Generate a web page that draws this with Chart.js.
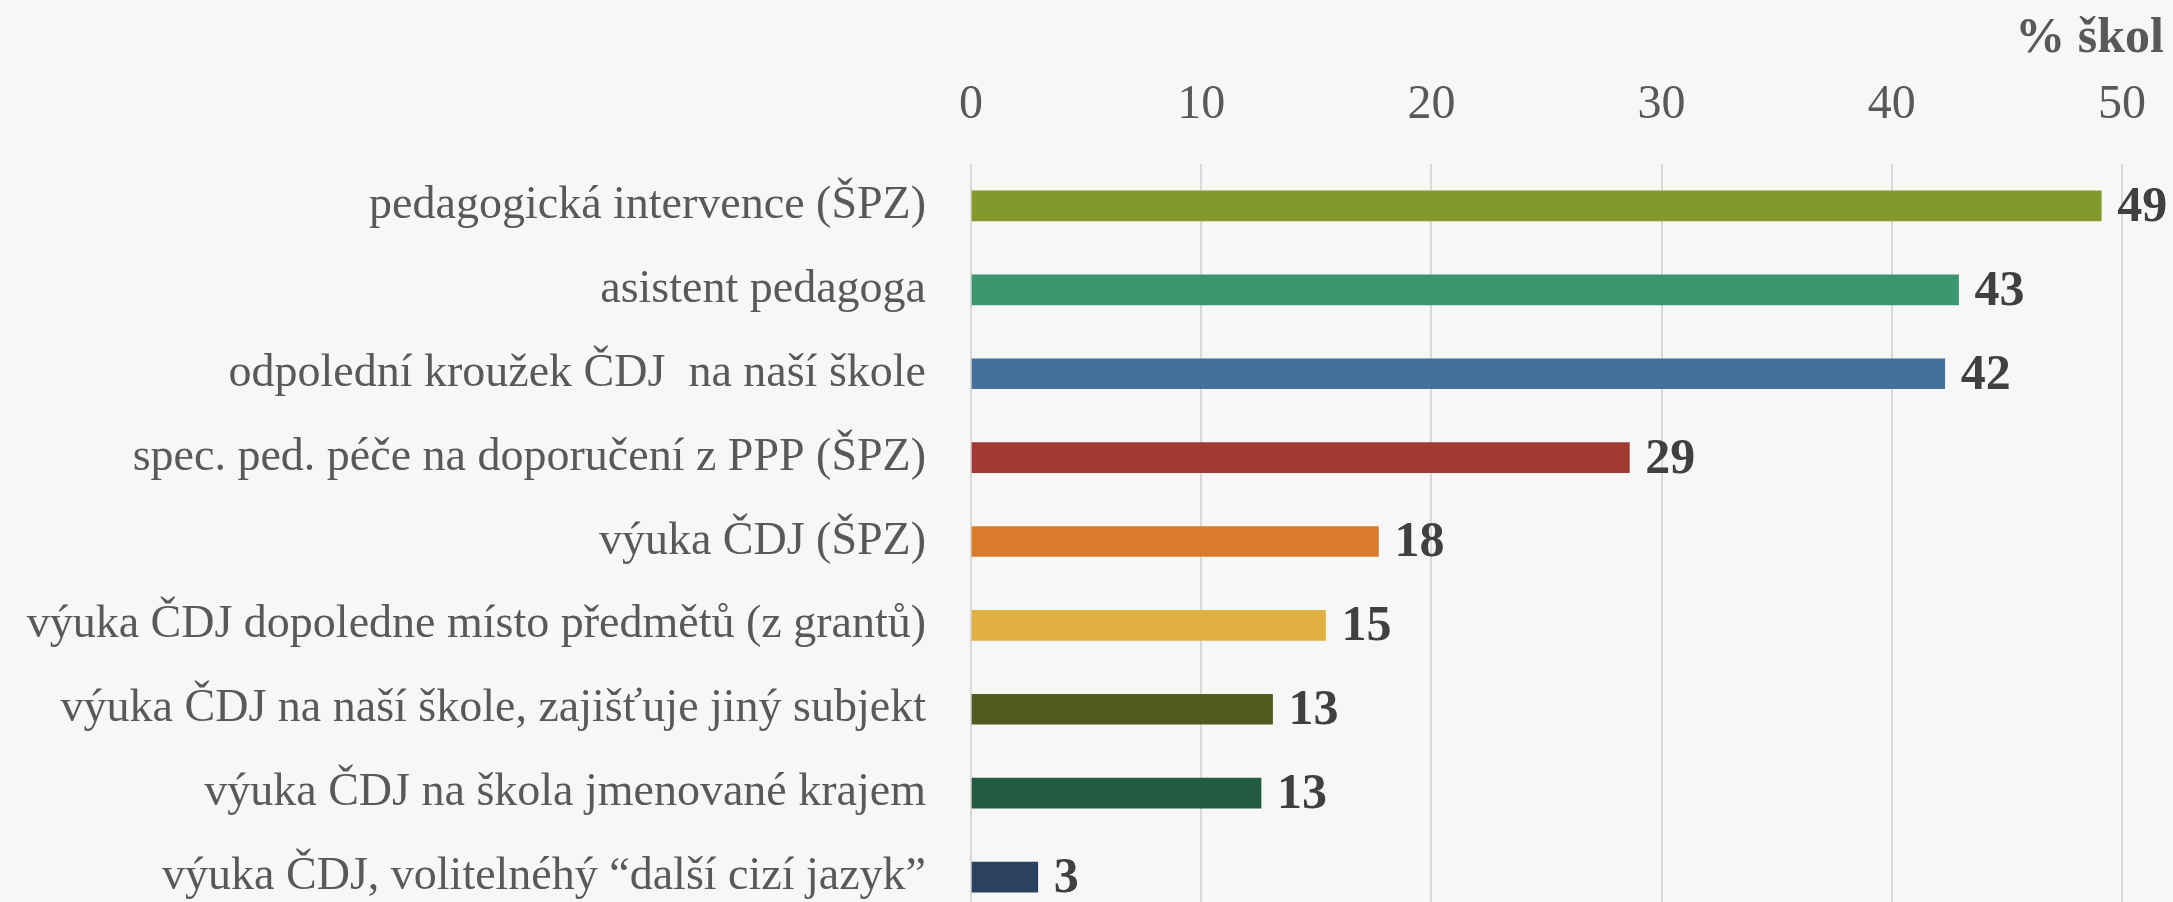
<!DOCTYPE html>
<html>
<head>
<meta charset="utf-8">
<script src="https://cdn.jsdelivr.net/npm/chart.js@4"></script>
<style>
  html, body { margin: 0; padding: 0; background: #f7f7f7; overflow: hidden; }
  #chart { display: block; }
</style>
</head>
<body>
<canvas id="chart" width="2173" height="919"></canvas>
<script>
const categories = [
  "pedagogická intervence (ŠPZ)",
  "asistent pedagoga",
  "odpolední kroužek ČDJ  na naší škole",
  "spec. ped. péče na doporučení z PPP (ŠPZ)",
  "výuka ČDJ (ŠPZ)",
  "výuka ČDJ dopoledne místo předmětů (z grantů)",
  "výuka ČDJ na naší škole, zajišťuje jiný subjekt",
  "výuka ČDJ na škola jmenované krajem",
  "výuka ČDJ, volitelnéhý “další cizí jazyk”"
];
const values = [49.1, 42.9, 42.3, 28.6, 17.7, 15.4, 13.1, 12.6, 2.9];
const barColors = ["#84992b", "#3c9670", "#44709d", "#a23a33", "#da7a2b", "#e0b142", "#4f5c1d", "#235b42", "#2a4260"];
const xTicks = [0, 10, 20, 30, 40, 50];
const unitLabel = "% škol";

const serif = "'Liberation Serif', 'Times New Roman', serif";

// value labels at bar ends + unit label in top right corner
const labelPlugin = {
  id: "labels",
  afterDatasetsDraw(chart) {
    const ctx = chart.ctx;
    ctx.save();
    ctx.fillStyle = "#404040";
    ctx.font = "bold 50px " + serif;
    ctx.textAlign = "left";
    ctx.textBaseline = "middle";
    chart.getDatasetMeta(0).data.forEach((bar, i) => {
      ctx.fillText(String(Math.round(values[i])), bar.x + 16, bar.y + 2);
    });
    ctx.fillStyle = "#595959";
    ctx.font = "bold 50px " + serif;
    ctx.textAlign = "right";
    ctx.textBaseline = "alphabetic";
    ctx.fillText(unitLabel, 2164, 52);
    ctx.restore();
  }
};

new Chart(document.getElementById("chart"), {
  type: "bar",
  data: {
    labels: categories,
    datasets: [{
      data: values,
      backgroundColor: barColors,
      barThickness: 30
    }]
  },
  options: {
    indexAxis: "y",
    responsive: false,
    animation: false,
    layout: { padding: { top: 0, right: 51, bottom: 0, left: 0 } },
    plugins: {
      legend: { display: false },
      tooltip: { enabled: false }
    },
    scales: {
      x: {
        position: "top",
        min: 0,
        max: 50,
        afterBuildTicks: (scale) => { scale.ticks = xTicks.map(v => ({ value: v })); },
        afterFit: (scale) => {
          scale.height = 164;
          scale.paddingLeft = 0;
          scale.paddingRight = 0;
        },
        grid: { color: "#d9d9d9", lineWidth: 2, drawTicks: false },
        border: { display: false },
        ticks: {
          color: "#595959",
          font: { family: serif, size: 48 },
          padding: 30
        }
      },
      y: {
        afterFit: (scale) => {
          scale.width = 971;
          scale.paddingTop = 0;
          scale.paddingBottom = 0;
        },
        grid: { display: false, drawTicks: false },
        border: { display: false },
        ticks: {
          color: "#595959",
          font: { family: serif, size: 46 },
          padding: 45
        }
      }
    }
  },
  plugins: [labelPlugin]
});
</script>
</body>
</html>
